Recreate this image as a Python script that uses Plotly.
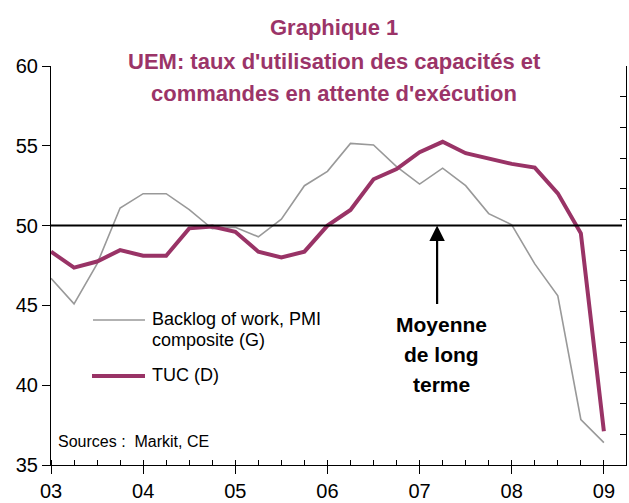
import plotly.graph_objects as go

# Quarterly data, 2003Q1 .. 2009Q1
quarters = [2003 + i / 4 for i in range(25)]
backlog_pmi = [46.7, 45.1, 47.6, 51.1, 52.0, 52.0, 51.0, 49.8, 49.9, 49.3, 50.4, 52.5,
               53.4, 55.15, 55.05, 53.7, 52.6, 53.6, 52.5, 50.75, 50.05, 47.6, 45.6, 37.85, 36.4]
tuc = [80.95, 80.43, 80.63, 81.0, 80.82, 80.82, 81.71, 81.77, 81.6, 80.95, 80.76, 80.95,
       81.8, 82.31, 83.31, 83.64, 84.19, 84.53, 84.16, 84.0, 83.81, 83.69, 82.85, 81.55, 75.1]
year_ticks = [2003, 2004, 2005, 2006, 2007, 2008, 2009]
year_labels = ["03", "04", "05", "06", "07", "08", "09"]
long_term_mean = 50

FONT = "Liberation Sans, Arial, sans-serif"
PURPLE = "#993366"
TITLE_C = "#9B3468"
GREY = "#999999"

W, H = 629, 503
L, R, T, B = 51, 3, 66, 38
PW, PH = W - L - R, H - T - B


def px(x, y):
    """pixel position -> paper coordinates"""
    return (x - L) / PW, (H - B - y) / PH


fig = go.Figure()
fig.add_trace(go.Scatter(x=quarters, y=backlog_pmi, mode="lines",
                         line=dict(color=GREY, width=1.6), name="Backlog of work, PMI composite (G)"))
fig.add_trace(go.Scatter(x=quarters, y=tuc, mode="lines", yaxis="y2",
                         line=dict(color=PURPLE, width=4), name="TUC (D)"))

fig.update_layout(
    width=W, height=H,
    margin=dict(l=L, r=R, t=T, b=B, autoexpand=False),
    paper_bgcolor="white", plot_bgcolor="white",
    showlegend=False,
    font=dict(family=FONT, color="black"),
    xaxis=dict(range=[2003, 2009.24], tickvals=year_ticks, ticktext=year_labels,
               ticks="outside", ticklen=8, tickwidth=1, tickcolor="black",
               minor=dict(ticks="inside", dtick=0.25, tick0=2003, ticklen=5, tickcolor="black"),
               showline=True, linecolor="black", linewidth=1, showgrid=False, zeroline=False,
               tickfont=dict(size=20, color="black"), automargin=False),
    yaxis=dict(range=[35, 60], dtick=5, ticks="outside", ticklen=8, tickcolor="black",
               showline=True, linecolor="black", linewidth=1, showgrid=False, zeroline=False,
               tickfont=dict(size=20, color="black"), automargin=False),
    yaxis2=dict(range=[74, 87], dtick=1, overlaying="y", side="right", ticks="inside",
                ticklen=6, tickcolor="black", showticklabels=False, automargin=False,
                showline=True, linecolor="black", linewidth=1, showgrid=False, zeroline=False),
)

# long-term mean line
fig.add_shape(type="line", xref="paper", yref="y", x0=0, x1=px(622, 0)[0],
              y0=long_term_mean, y1=long_term_mean, line=dict(color="black", width=2))

# arrow
fig.add_annotation(x=2007.19, y=long_term_mean, ax=2007.19, ay=45.0, xref="x", yref="y",
                   axref="x", ayref="y", showarrow=True, arrowhead=2, arrowsize=1.4,
                   arrowwidth=2.2, arrowcolor="black", standoff=0, text="")


def label(txt, x, y, size, color="black", anchor="center"):
    x0, y0 = px(x, y)
    fig.add_annotation(x=x0, y=y0, xref="paper", yref="paper", xanchor=anchor, yanchor="middle",
                       text=txt, showarrow=False, font=dict(size=size, color=color, family=FONT))


for txt, yy in [("Moyenne", 324), ("de long", 354), ("terme", 384)]:
    label("<b>%s</b>" % txt, 441, yy, 21)

# title
for txt, yy in [("Graphique 1", 28), ("UEM: taux d'utilisation des capacités et", 61),
                ("commandes en attente d'exécution", 93)]:
    label("<b>%s</b>" % txt, 334, yy, 22, TITLE_C)

# legend (manual)
a, b_ = px(93, 320)
c, _ = px(145, 320)
fig.add_shape(type="line", xref="paper", yref="paper", x0=a, x1=c, y0=b_, y1=b_,
              line=dict(color=GREY, width=1.6))
a, b_ = px(92, 376)
c, _ = px(145, 376)
fig.add_shape(type="line", xref="paper", yref="paper", x0=a, x1=c, y0=b_, y1=b_,
              line=dict(color=PURPLE, width=4))
for txt, yy in [("Backlog of work, PMI", 318.5), ("composite (G)", 340), ("TUC (D)", 375)]:
    label(txt, 150, yy, 18, anchor="left")
label("Sources :  Markit, CE", 56, 441, 16, anchor="left")

fig.write_html("out.html", config={"displayModeBar": False},
               post_script="document.body.style.margin='0';document.body.style.overflow='hidden';")
